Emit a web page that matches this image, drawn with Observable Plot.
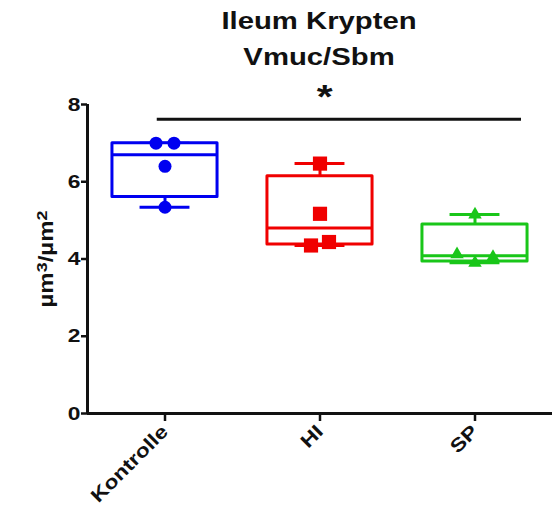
<!DOCTYPE html>
<html>
<head>
<meta charset="utf-8">
<script src="https://cdn.jsdelivr.net/npm/d3@7"></script>
<script src="https://cdn.jsdelivr.net/npm/@observablehq/plot@0.6"></script>
<style>
  body { margin: 0; background: #fff; font-family: "Liberation Sans", Arial, sans-serif; }
  #title { width: 559px; box-sizing: border-box; padding: 3px 7px 0 87px; height: 75px; text-align: center;
           font-weight: bold; font-size: 24px; line-height: 36px; color: #111; }
  #title span { display: inline-block; transform: scaleX(1.22); transform-origin: center; }
</style>
</head>
<body>
<div id="title"><span>Ileum Krypten<br>Vmuc/Sbm</span></div>
<div id="chart"></div>
<script>
// ---- data ----
const groups = ["Kontrolle", "HI", "SP"];
const kontrolle = [7.0, 7.0, 6.4, 5.34];
const hi = [6.47, 5.17, 4.35, 4.44];
const sp = [5.15, 4.12, 3.90, 4.05];
const yTicks = [0, 2, 4, 6, 8];
const yLabelParts = [["µm", false], ["3", true], ["/µm", false], ["2", true]];
const yLabel = "µm3/µm2";
const sigFrom = "Kontrolle", sigTo = "SP", sigY = 7.62, sigText = "*";

// ---- styles ----
const colors = ["#0000f0", "#f00000", "#19c619"];
const symbols = ["circle", "square", "triangle"];
const radii = [6.5, 8, 5];

const series = [kontrolle, hi, sp];

// GraphPad-style quantiles ((n+1)p)
function gpQuantile(sorted, p) {
  const n = sorted.length;
  let pos = p * (n + 1);
  if (pos < 1) pos = 1;
  if (pos > n) pos = n;
  const lo = Math.floor(pos), frac = pos - lo;
  const a = sorted[lo - 1], b = sorted[Math.min(lo, n - 1)];
  return a + frac * (b - a);
}

const stats = series.map((vals, i) => {
  const s = [...vals].sort((a, b) => a - b);
  return {i, group: groups[i], min: s[0], max: s[s.length - 1],
          q1: gpQuantile(s, 0.25), med: gpQuantile(s, 0.5), q3: gpQuantile(s, 0.75)};
});

// spread overlapping points side by side
const spacing = 0.116;
const points = [];
series.forEach((vals, i) => {
  const idx = vals.map((v, k) => k).sort((a, b) => vals[a] - vals[b]);
  const clusters = [];
  idx.forEach(k => {
    const last = clusters[clusters.length - 1];
    if (last && vals[k] - vals[last[last.length - 1]] < 0.2) last.push(k);
    else clusters.push([k]);
  });
  clusters.forEach(c => {
    c.sort((a, b) => a - b);
    c.forEach((k, j) => points.push({i, group: groups[i], value: vals[k], x: i + (j - (c.length - 1) / 2) * spacing}));
  });
});

const boxHalf = 0.339, capHalf = 0.161, sw = 3;
const marks = [];
stats.forEach(s => {
  const c = colors[s.i];
  marks.push(
    Plot.ruleX([s], {x: "i", y1: "q3", y2: "max", stroke: c, strokeWidth: sw}),
    Plot.ruleX([s], {x: "i", y1: "min", y2: "q1", stroke: c, strokeWidth: sw}),
    Plot.ruleY([s], {x1: d => d.i - capHalf, x2: d => d.i + capHalf, y: "max", stroke: c, strokeWidth: sw}),
    Plot.ruleY([s], {x1: d => d.i - capHalf, x2: d => d.i + capHalf, y: "min", stroke: c, strokeWidth: sw}),
    Plot.rect([s], {x1: d => d.i - boxHalf, x2: d => d.i + boxHalf, y1: "q1", y2: "q3", stroke: c, fill: "white", strokeWidth: sw, strokeLinejoin: "round"}),
    Plot.ruleY([s], {x1: d => d.i - boxHalf, x2: d => d.i + boxHalf, y: "med", stroke: c, strokeWidth: sw}),
    Plot.dot(points.filter(p => p.i === s.i), {x: "x", y: "value", symbol: symbols[s.i], r: radii[s.i], fill: c, stroke: "none"})
  );
});

const fi = groups.indexOf(sigFrom), ti = groups.indexOf(sigTo);

const chart = Plot.plot({
  width: 559,
  height: 435,
  marginTop: 29,
  marginBottom: 97,
  marginLeft: 87,
  marginRight: 7,
  style: {fontFamily: "'Liberation Sans', Arial, sans-serif", fontSize: "19px", fontWeight: "bold", color: "#111", background: "white"},
  x: {domain: [-0.5, 2.5]},
  y: {domain: [0, 8]},
  marks: [
    Plot.axisY({ticks: yTicks, tickSize: 6, tickPadding: 1, strokeWidth: 2.5, label: null}),
    Plot.axisX({ticks: groups.map((g, i) => i), tickFormat: i => groups[i], tickRotate: -45, tickSize: 8, tickPadding: 7, strokeWidth: 2.5, label: null}),
    Plot.ruleX([-0.5], {y1: 0, y2: 8, strokeWidth: 3, stroke: "#111"}),
    Plot.ruleY([0], {x1: -0.5, x2: 2.5, strokeWidth: 3, stroke: "#111"}),
    Plot.text([yLabel], {x: -0.5, y: 4, dx: -41, rotate: -90, text: d => d, fontSize: 20, fontWeight: "bold", className: "ylab"}),
    Plot.ruleY([sigY], {x1: fi - 0.05, x2: ti + 0.3, strokeWidth: 3, stroke: "#111"}),
    Plot.text([sigText], {x: (fi + ti) / 2 + 0.03, y: sigY + 0.58, text: d => d, fontSize: 34, fontWeight: "bold"}),
    ...marks
  ]
});
document.getElementById("chart").appendChild(chart);

// y label with real superscripts
const lab = chart.querySelector(".ylab text");
if (lab) {
  lab.textContent = "";
  yLabelParts.forEach(([s, sup]) => {
    const ts = document.createElementNS("http://www.w3.org/2000/svg", "tspan");
    ts.textContent = s;
    if (sup) { ts.setAttribute("font-size", "15"); ts.setAttribute("baseline-shift", "40%"); }
    lab.appendChild(ts);
  });
}

// widen text horizontally to match the reference's broad lettering
chart.querySelectorAll("text").forEach(t => {
  const L = t.getComputedTextLength();
  if (L > 0) {
    t.setAttribute("textLength", L * 1.2);
    t.setAttribute("lengthAdjust", "spacingAndGlyphs");
  }
});
</script>
</body>
</html>
